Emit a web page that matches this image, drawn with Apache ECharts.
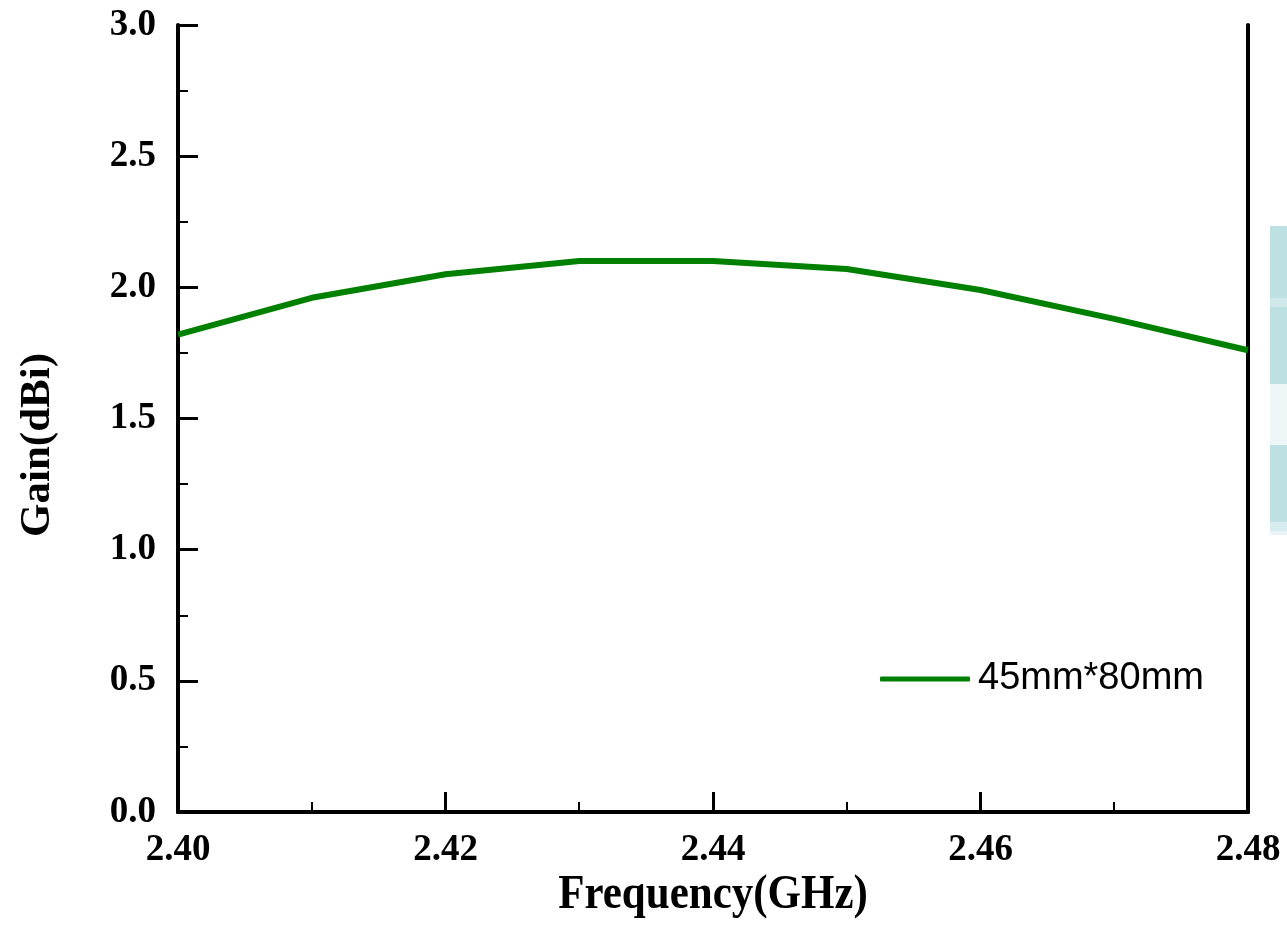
<!DOCTYPE html>
<html>
<head>
<meta charset="utf-8">
<script src="https://cdn.jsdelivr.net/npm/echarts@6/dist/echarts.min.js"></script>
<style>
html,body{margin:0;padding:0;background:#fff;}
#chart{width:1287px;height:947px;}
</style>
</head>
<body>
<div id="chart"></div>
<script>
const frequency = [2.40, 2.41, 2.42, 2.43, 2.44, 2.45, 2.46, 2.47, 2.48];
const gain45x80 = [1.82, 1.96, 2.05, 2.10, 2.10, 2.07, 1.99, 1.88, 1.76];
const seriesName = '45mm*80mm';
const xTitle = 'Frequency(GHz)';
const yTitle = 'Gain(dBi)';

const chart = echarts.init(document.getElementById('chart'));
const serif = '"Liberation Serif", "Times New Roman", serif';
const axisLabelStyle = {fontFamily: serif, fontWeight: 'bold', fontSize: 37, color: '#000'};

chart.setOption({
  animation: false,
  backgroundColor: '#fff',
  grid: {left: 178, right: 39, top: 25, bottom: 135},
  legend: {
    left: 880, top: 660, padding: 0,
    itemWidth: 90, itemHeight: 5, icon: 'roundRect',
    textStyle: {fontFamily: '"Liberation Sans", Arial, sans-serif', fontSize: 38, color: '#000', padding: [0, 0, 0, 3]},
    data: [seriesName]
  },
  xAxis: [{
    type: 'value', min: 2.40, max: 2.48, interval: 0.02,
    axisLine: {lineStyle: {color: '#000', width: 4}},
    axisTick: {inside: true, length: 20, lineStyle: {color: '#000', width: 3}},
    minorTick: {show: true, splitNumber: 2, length: 10, lineStyle: {color: '#000', width: 2}},
    splitLine: {show: false},
    axisLabel: Object.assign({margin: 20, formatter: v => v.toFixed(2)}, axisLabelStyle)
  }, {
    type: 'value', position: 'top', min: 2.40, max: 2.48, interval: 0.02,
    axisLine: {show: true, lineStyle: {color: '#000', width: 4}},
    axisTick: {show: false}, axisLabel: {show: false}, splitLine: {show: false}
  }],
  yAxis: [{
    type: 'value', min: 0, max: 3, interval: 0.5,
    axisLine: {show: true, lineStyle: {color: '#000', width: 4}},
    axisTick: {inside: true, length: 20, lineStyle: {color: '#000', width: 3}},
    minorTick: {show: true, splitNumber: 2, length: 10, lineStyle: {color: '#000', width: 2}},
    splitLine: {show: false},
    axisLabel: Object.assign({margin: 22, formatter: v => v.toFixed(1)}, axisLabelStyle)
  }, {
    type: 'value', position: 'right', min: 0, max: 3, interval: 0.25,
    axisLine: {show: true, lineStyle: {color: '#000', width: 4}},
    axisTick: {show: true, inside: false, length: 2, lineStyle: {color: '#000', width: 2}},
    axisLabel: {show: false}, splitLine: {show: false}
  }],
  graphic: [
    {type: 'text', x: 713, y: 895, scaleY: 1.15,
     style: {text: xTitle, font: 'bold 43px ' + serif, fill: '#000', align: 'center', verticalAlign: 'middle'}},
    {type: 'text', x: 38, y: 445, rotation: Math.PI / 2,
     style: {text: yTitle, font: 'bold 43px ' + serif, fill: '#000', align: 'center', verticalAlign: 'middle'}},
    {type: 'rect', shape: {x: 1270, y: 226, width: 17, height: 72}, style: {fill: '#bde0e2'}},
    {type: 'rect', shape: {x: 1270, y: 298, width: 17, height: 9}, style: {fill: '#cfe8ea'}},
    {type: 'rect', shape: {x: 1270, y: 307, width: 17, height: 77}, style: {fill: '#bde0e2'}},
    {type: 'rect', shape: {x: 1270, y: 384, width: 17, height: 61}, style: {fill: '#eef6f8'}},
    {type: 'rect', shape: {x: 1270, y: 445, width: 17, height: 77}, style: {fill: '#bde0e2'}},
    {type: 'rect', shape: {x: 1270, y: 522, width: 17, height: 9}, style: {fill: '#d6ecee'}},
    {type: 'rect', shape: {x: 1270, y: 531, width: 17, height: 4}, style: {fill: '#e8f4f5'}}
  ],
  series: [{
    name: seriesName, type: 'line',
    data: frequency.map((f, i) => [f, gain45x80[i]]),
    showSymbol: false, symbol: 'none',
    lineStyle: {color: '#008000', width: 6},
    itemStyle: {color: '#008000'}
  }]
});
</script>
</body>
</html>
